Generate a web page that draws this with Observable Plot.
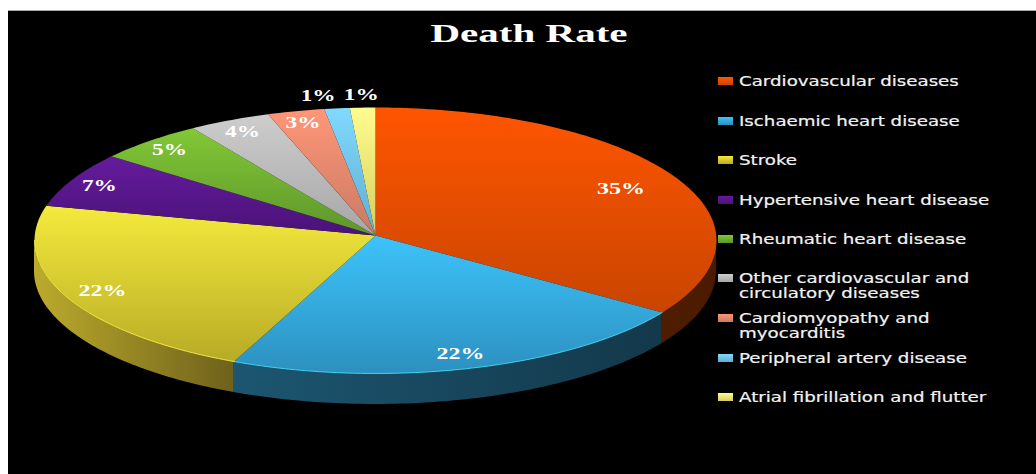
<!DOCTYPE html>
<html>
<head>
<meta charset="utf-8">
<script src="https://cdn.jsdelivr.net/npm/d3@7"></script>
<script src="https://cdn.jsdelivr.net/npm/@observablehq/plot@0.6"></script>
<style>
  html, body { margin: 0; padding: 0; background: #fff; overflow: hidden; width: 1036px; height: 474px; }
  #panel { position: absolute; left: 8px; top: 10px; right: 0; bottom: 0; background: #000; border-top: 1px solid #a8a8a8; box-sizing: border-box; }
  #chart { position: absolute; left: 0; top: 0; }
  #legend { position: absolute; left: 0; top: 0; width: 1036px; height: 474px; pointer-events: none; }
  .row { position: absolute; left: 718px; color: #f2f2f2; font: 14px/15px "DejaVu Sans", sans-serif; -webkit-text-stroke: 0.2px #f2f2f2; }
  .row i { position: absolute; left: 0; top: 3px; width: 15px; height: 8px; }
  .row span { position: absolute; left: 21px; top: 0; white-space: pre; transform: scaleX(1.3); transform-origin: 0 0; }
</style>
</head>
<body>
<div id="panel"></div>
<div id="chart"></div>
<div id="legend"></div>
<script>
const categories = ["Cardiovascular diseases", "Ischaemic heart disease", "Stroke", "Hypertensive heart disease", "Rheumatic heart disease", "Other cardiovascular and\ncirculatory diseases", "Cardiomyopathy and\nmyocarditis", "Peripheral artery disease", "Atrial fibrillation and flutter"];
const values = [34.1, 22.7, 22.4, 6.7, 5.1, 3.9, 2.7, 1.2, 1.2];
const percentLabels = ["35%", "22%", "22%", "7%", "5%", "4%", "3%", "1%", "1%"];
const topColors = ["#ff5500", "#3dc3fa", "#f4ea3c", "#651b9c", "#82c836", "#cdcdcd", "#ff9678", "#80d9ff", "#fffc8e"];
const bottomColors = ["#c94500", "#2c90bf", "#b8ab26", "#4a1278", "#5d962b", "#a6a6a6", "#c97a62", "#60aed0", "#d6cd5e"];
const sideLeft = ["#4f1d00", "#1c5671", "#bcab2c"];
const sideRight = ["#4a1a00", "#13384a", "#6e611b"];
const legendTops = [74, 114, 153, 193, 232, 271, 311, 351, 390];

const depth = 0.233;      // thickness of the pie's rim in y units
const apexY = 0.0376;     // the slices' shared point sits a little above the ellipse's centre
const toRad = Math.PI / 180;
const total = d3.sum(values);
const ends = d3.cumsum(values);

const slices = values.map((v, i) => {
  const a0 = (ends[i] - v) / total * 360, a1 = ends[i] / total * 360;
  return {i, a0, a1, mid: (a0 + a1) / 2, label: percentLabels[i], value: v};
});
const rimPoint = a => ({x: Math.sin(a * toRad), y: Math.cos(a * toRad)});
const arc = (a0, a1) => {
  const n = Math.max(2, Math.ceil(a1 - a0));
  return d3.range(n + 1).map(k => rimPoint(a0 + (a1 - a0) * k / n));
};
const wedge = s => [{x: 0, y: apexY}, ...arc(s.a0, s.a1)];
const labelRadius = s => s.value > 30 ? 0.82 : s.value > 20 ? 0.885 : s.value < 2 ? 1.1 : 0.91;
const labelPos = s => ({...s, x: Math.sin(s.mid * toRad) * labelRadius(s), y: Math.cos(s.mid * toRad) * labelRadius(s)});

const defs = () => {
  const d = d3.create("svg:defs");
  const grad = (id, c0, c1, horizontal) => {
    const g = d.append("linearGradient").attr("id", id)
      .attr("x1", 0).attr("y1", 0).attr("x2", horizontal ? 1 : 0).attr("y2", horizontal ? 0 : 1);
    g.append("stop").attr("offset", "0%").attr("stop-color", c0);
    g.append("stop").attr("offset", "100%").attr("stop-color", c1);
  };
  topColors.forEach((c, i) => grad(`top${i}`, c, bottomColors[i], false));
  sideLeft.forEach((c, i) => grad(`side${i}`, c, sideRight[i], true));
  return d.node();
};

// front of the pie: only the arc between 90° and 270° faces the viewer
const front = slices.slice(0, 3).map(s => ({s, pts: arc(Math.max(s.a0, 90), Math.min(s.a1, 270))}));
const labelData = slices.map(labelPos);
const serif = "'Liberation Serif', serif";

const chart = Plot.plot({
  width: 1036, height: 474,
  margin: 0,
  style: {background: "transparent", overflow: "visible"},
  x: {domain: [-1, 1], range: [34, 716], axis: null},
  y: {domain: [-1, 1], range: [373, 107], axis: null},
  marks: [
    defs,
    ...front.map(({s, pts}) => Plot.areaY(pts, {x: "x", y1: "y", y2: d => d.y - depth, fill: `url(#side${s.i})`})),
    ...slices.map(s => Plot.line(wedge(s), {x: "x", y: "y", fill: `url(#top${s.i})`, stroke: "none"})),
    ...front.slice(1).map(({s, pts}) => Plot.line(pts, {x: "x", y: "y", stroke: d3.color(topColors[s.i]).brighter(0.5).formatHex(), strokeWidth: 1, strokeOpacity: 0.8})),
    Plot.text(labelData.filter(d => d.i !== 7), {x: "x", y: "y", text: "label", fill: "#fff", fontFamily: serif, fontWeight: "bold", fontSize: 17}),
    Plot.text(labelData.filter(d => d.i === 7), {x: "x", y: "y", text: "label", dx: -15, dy: 0, fill: "#fff", fontFamily: serif, fontWeight: "bold", fontSize: 17}),
    Plot.text(["Death Rate"], {frameAnchor: "top", dx: 10.5, dy: 23, fill: "#fff", fontFamily: serif, fontWeight: "bold", fontSize: 26, className: "title"})
  ]
});
d3.select(chart).selectAll("text").each(function () {
  const t = this.textContent;
  const w = t === "Death Rate" ? 197 : (t.length === 3 ? 48 : 35);
  d3.select(this).attr("textLength", w).attr("lengthAdjust", "spacingAndGlyphs");
});
document.getElementById("chart").append(chart);

const legend = d3.select("#legend");
categories.forEach((c, i) => {
  const r = legend.append("div").attr("class", "row").style("top", legendTops[i] + "px");
  r.append("i").style("background", `linear-gradient(${topColors[i]}, ${bottomColors[i]})`);
  r.append("span").text(c);
});
</script>
</body>
</html>
